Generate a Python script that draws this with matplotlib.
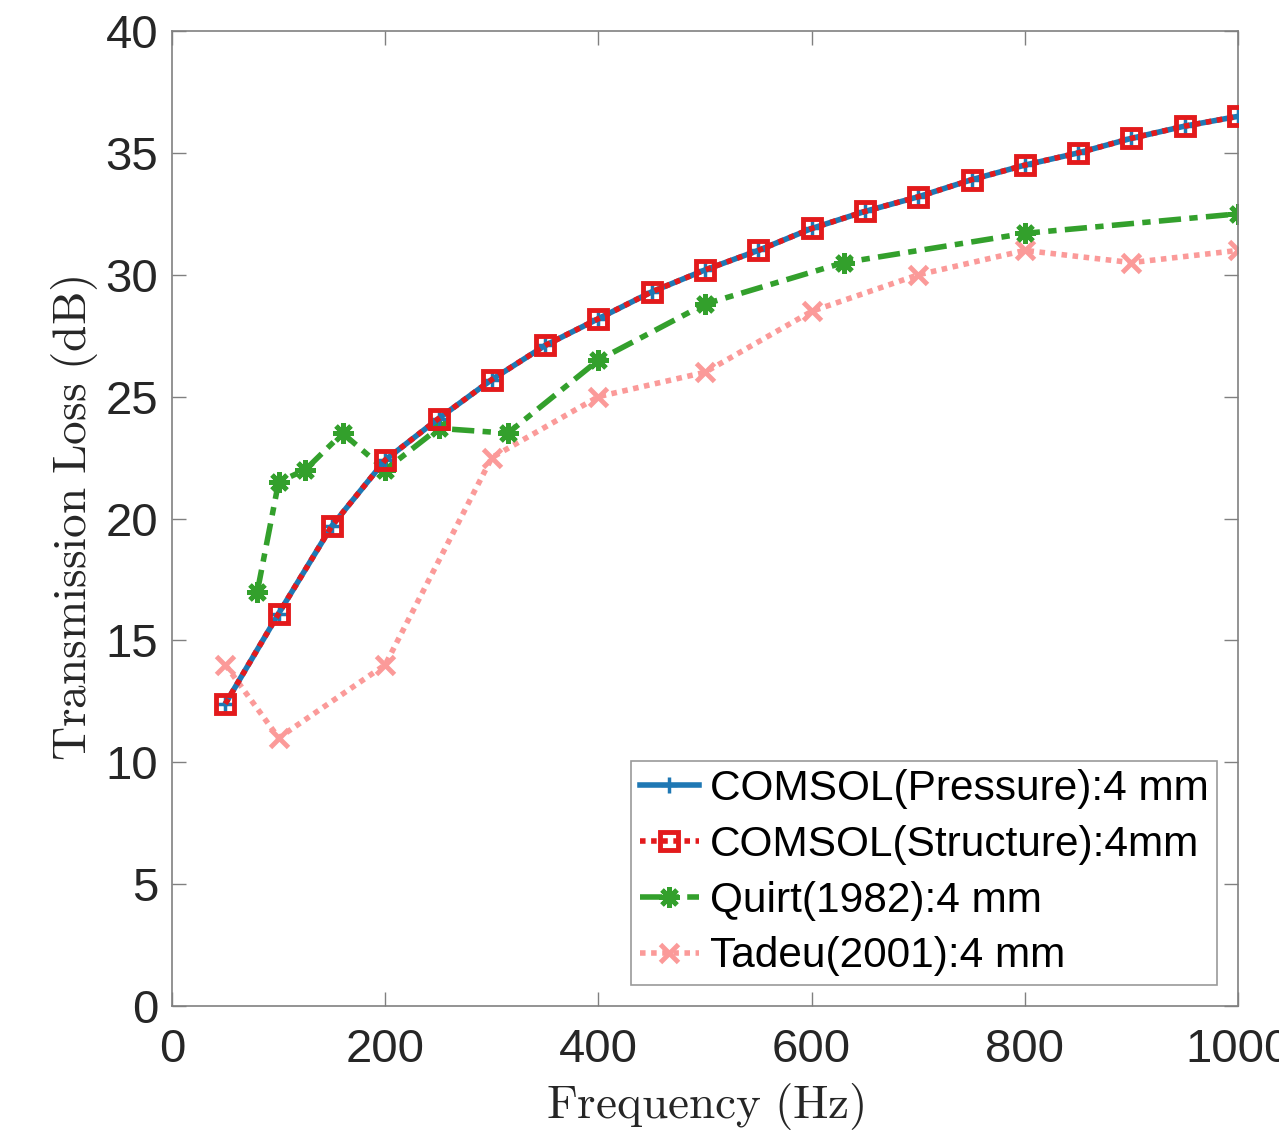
import numpy as np
import matplotlib
matplotlib.use("Agg")
import matplotlib.pyplot as plt

plt.rcParams["mathtext.fontset"] = "cm"
plt.rcParams["font.family"] = ["Liberation Sans", "DejaVu Sans"]

# =========================
# Data
# =========================
freq_comsol = [50, 100, 150, 200, 250, 300, 350, 400, 450, 500,
               550, 600, 650, 700, 750, 800, 850, 900, 950, 1000]
tl_pressure = [12.4, 16.1, 19.7, 22.4, 24.1, 25.7, 27.1, 28.2, 29.3, 30.2,
               31.0, 31.9, 32.6, 33.2, 33.9, 34.5, 35.0, 35.6, 36.1, 36.5]
tl_structure = [12.4, 16.1, 19.7, 22.4, 24.1, 25.7, 27.1, 28.2, 29.3, 30.2,
                31.0, 31.9, 32.6, 33.2, 33.9, 34.5, 35.0, 35.6, 36.1, 36.5]

freq_quirt = [80, 100, 125, 160, 200, 250, 315, 400, 500, 630, 800, 1000]
tl_quirt = [17.0, 21.5, 22.0, 23.5, 22.0, 23.7, 23.5, 26.5, 28.8, 30.5, 31.7, 32.5]

freq_tadeu = [50, 100, 200, 300, 400, 500, 600, 700, 800, 900, 1000]
tl_tadeu = [14.0, 11.0, 14.0, 22.5, 25.0, 26.0, 28.5, 30.0, 31.0, 30.5, 31.0]

labels = ["COMSOL(Pressure):4 mm", "COMSOL(Structure):4mm",
          "Quirt(1982):4 mm", "Tadeu(2001):4 mm"]

# =========================
# Plot
# =========================
fig = plt.figure(figsize=(12.79, 11.33), dpi=100)
ax = fig.add_axes([0.1345, 0.1121, 0.8335, 0.8605])

ax.plot(freq_comsol, tl_pressure, color="#1f78b4", linestyle="-", linewidth=4,
        marker="+", markersize=12, markeredgewidth=2.5, label=labels[0], zorder=3)
ax.plot(freq_comsol, tl_structure, color="#e31a1c", linestyle=(0, (1, 1)), linewidth=4,
        marker="s", markersize=13, markerfacecolor="none", markeredgewidth=3.5,
        label=labels[1], zorder=4)
ax.plot(freq_quirt, tl_quirt, color="#33a02c", linestyle=(0, (4, 1.5, 1.5, 1.5)), linewidth=4,
        marker=(8, 2, 0), markersize=15, markeredgewidth=3.5, label=labels[2], zorder=2)
ax.plot(freq_tadeu, tl_tadeu, color="#fb9a99", linestyle=(0, (1, 1)), linewidth=4,
        marker="x", markersize=13, markeredgewidth=3.5, label=labels[3], zorder=1)

ax.set_xlim(0, 1000)
ax.set_ylim(0, 40)
ax.set_xticks(np.arange(0, 1001, 200))
ax.set_yticks(np.arange(0, 41, 5))

ax.tick_params(direction="in", length=10, width=1, colors="#808080",
               labelcolor="#262626", labelsize=34, top=True, right=True)
ax.tick_params(axis="x", pad=16)
ax.tick_params(axis="y", pad=10)
for s in ax.spines.values():
    s.set_color("#808080")
    s.set_linewidth(1.2)

ax.set_xlabel(r"$\mathrm{Frequency\ (Hz)}$", fontsize=34, color="#262626", labelpad=6)
ax.set_ylabel(r"$\mathrm{Transmission\ Loss\ (dB)}$", fontsize=34, color="#262626", labelpad=4)

leg = ax.legend(loc="lower right", fontsize=30.5, frameon=True, fancybox=False,
                edgecolor="#808080", handlelength=1.4, handletextpad=0.25,
                borderpad=0.2, labelspacing=0.37, borderaxespad=0.5)
leg.get_frame().set_linewidth(1.2)

fig.savefig("out.png", dpi=100)
